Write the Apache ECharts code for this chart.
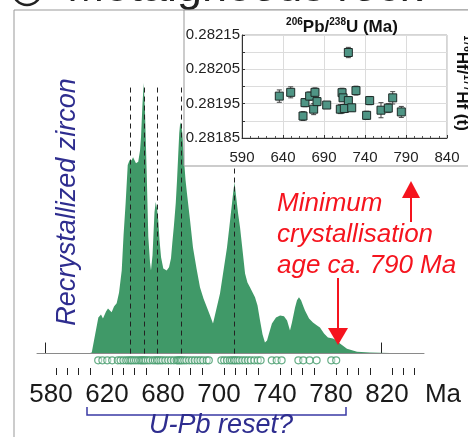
<!DOCTYPE html>
<html>
<head>
<meta charset="utf-8">
<script src="https://cdn.jsdelivr.net/npm/echarts@6/dist/echarts.min.js"></script>
<style>
  html, body { margin: 0; padding: 0; background: #fff; }
  #chart { width: 468px; height: 437px; }
</style>
</head>
<body>
<div id="chart"></div>
<script>
// age density curve of recrystallized zircon (Ma, arbitrary units)
const kdeAge = [574, 611, 613.4, 615, 618.1, 620, 621.4, 623.6, 625, 627.6,
  629.3, 631.2, 632.9, 634.8, 636.1, 637.6, 639.1, 640.4, 641.9, 642.9,
  643.8, 645, 646.6, 647.9, 648.6, 649.6, 650.5, 651.4, 652.6, 653.8,
  655, 655.7, 656.8, 657.4, 658.2, 659.1, 660, 660.9, 661.8, 662.9,
  664.5, 665.7, 666.9, 668.6, 670, 670.9, 672.1, 673.4, 674.3, 675.2,
  675.9, 676.6, 677.4, 678.1, 679.3, 680.4, 681.4, 683.6, 685.7, 688.2,
  690.7, 693.2, 695.7, 697.9, 700, 702.5, 705, 707.5, 710, 711.8,
  713.6, 714.6, 715.4, 716.4, 717.9, 719.3, 721.1, 722.9, 724.6, 726.4,
  730, 731.8, 733.6, 735.4, 737.1, 738.6, 740, 742.1, 745, 747.9,
  750.7, 752.9, 755, 756.4, 758.6, 760, 761.4, 762.9, 764.3, 765.7,
  768.6, 771.4, 774.3, 776.4, 779.3, 782.1, 785.7, 788.6, 790.7, 795.7,
  802.9, 812.1, 826.4, 851];
const kdeDensity = [0, 0, 0.4, 4.8, 13.3, 14.4, 12.9, 15.5, 16.6, 15.2,
  17.3, 18.5, 22.5, 30.6, 43.5, 55.4, 69.4, 71.2, 71.2, 72.3,
  72.0, 70.1, 70.6, 74.9, 79.8, 91.5, 99.6, 89.7, 67.5, 42.9,
  33.6, 30.6, 36.2, 42.9, 52.0, 55.8, 53.5, 49.1, 41.7, 35.5,
  31.3, 31.0, 30.6, 31.8, 35.1, 40.5, 47.2, 55.4, 63.8, 73.7,
  81.2, 85.2, 83.8, 81.2, 71.2, 63.8, 59.0, 49.1, 39.1, 31.4,
  24.4, 20.3, 17.0, 14.0, 11.1, 16.6, 22.1, 30.6, 39.1, 47.2,
  55.4, 60.1, 63.1, 58.3, 51.7, 46.5, 38.0, 29.5, 26.2, 24.4,
  20.7, 17.7, 12.2, 7.0, 4.1, 4.8, 7.4, 11.1, 13.3, 14.0,
  13.7, 12.2, 8.5, 11.4, 17.0, 19.6, 20.7, 19.6, 17.7, 15.9,
  12.9, 11.4, 10.3, 9.6, 7.4, 5.9, 5.5, 4.8, 3.7, 1.8,
  0.7, 0.4, 0.2, 0];

// single zircon ages (open circles under the curve)
const zirconAges = [618, 621, 624.5, 628, 632, 634, 636, 638, 639.5, 641,
  642, 643.5, 645, 646.5, 648, 649, 650, 651, 652, 653.5,
  655, 657, 658.5, 660, 661, 662.5, 664, 666, 668, 670,
  672, 674, 675, 676, 677, 678, 679.5, 681, 683, 685,
  687, 689, 691, 693, 695.5, 697, 706, 708, 710, 712,
  713.5, 715, 716, 717.5, 719, 721, 723, 725, 727, 729.5,
  732, 734, 742, 745.5, 749, 761, 764.5, 769, 774, 784.5, 788];

// dashed peak lines
const peakAges = [641, 651, 660, 677, 715];

// main age axis labels (as printed), last one is the unit
const ageTicks = [580, 620, 660, 700, 740, 780, 820, 860];
const ageTickLabels = ['580', '620', '680', '700', '740', '780', '820', 'Ma'];

// inset: 176Hf/177Hf(t) vs 206Pb/238U age
const hfAge = [635.5, 649.4, 664.4, 666.8, 672.5, 677.4, 679, 681.5, 693.3, 709.9,
  712, 713.2, 714.8, 719.7, 719.7, 723.8, 729, 742, 745.7, 759.5,
  768.4, 773.8, 784.3];
const hfRatio = [0.281972, 0.281983, 0.281914, 0.281953, 0.281972, 0.281934, 0.281983, 0.281956, 0.281946, 0.281934,
  0.281982, 0.281967, 0.281936, 0.282099, 0.281959, 0.281938, 0.281988, 0.281916, 0.281959, 0.281931,
  0.281937, 0.281967, 0.281926];
const hfErr = [0.000018, 0.000016, 0.000013, 0.000012, 0.000012, 0.000016, 0.000013, 0.000012, 0.000006, 0.000013,
  0.000013, 0.000010, 0.000012, 0.000015, 0.000012, 0.000010, 0.000013, 0.000012, 0.000012, 0.000022,
  0.000013, 0.000018, 0.000016];
const hfBand = [0.281916, 0.281994];

const green = '#409968';
const blue = '#2e2d8f';
const red = '#f5141e';
const font = 'Liberation Sans, Arial, sans-serif';

const kdeData = kdeAge.map((a, i) => [a, kdeDensity[i]]);
const longTicks = ageTicks.filter(v => v <= 820);
const shortTicks = [];
for (let v = 580; v <= 844; v += 8) {
  if ((v - 580) % 40 !== 0) shortTicks.push(v);
}

const peakLines = peakAges.map(a => [{ coord: [a, 0] }, { coord: [a, 99] }]);

const chart = echarts.init(document.getElementById('chart'));

const option = {
  animation: false,
  backgroundColor: '#fff',
  grid: [
    { left: 31, right: 31, top: 82, bottom: 59 },
    { left: 242, top: 35, width: 205, height: 103, show: true, borderColor: '#aaa', borderWidth: 1, zlevel: 1, z: 2 }
  ],
  xAxis: [
    {
      type: 'value', gridIndex: 0, position: 'bottom', min: 570, max: 860,
      axisLine: { show: true, lineStyle: { color: 'rgba(0,0,0,0)' } },
      axisTick: { show: true, inside: true, length: 11, customValues: longTicks, lineStyle: { color: '#222', width: 1 } },
      axisLabel: {
        customValues: ageTicks,
        formatter: v => ageTickLabels[ageTicks.indexOf(v)],
        fontSize: 26, fontFamily: font, color: '#1a1a1a', margin: 4, padding: [0, 0, 0, 12],
        showMinLabel: true, showMaxLabel: true
      },
      splitLine: { show: false }
    },
    {
      type: 'value', gridIndex: 0, position: 'bottom', offset: -3, min: 570, max: 860,
      axisLine: { show: true, lineStyle: { color: 'rgba(0,0,0,0)' } },
      axisTick: { show: true, inside: true, length: 7, customValues: shortTicks, lineStyle: { color: '#222', width: 1 } },
      axisLabel: { show: false },
      splitLine: { show: false }
    },
    {
      type: 'value', gridIndex: 1, min: 590, max: 840, interval: 50,
      zlevel: 1, z: 3,
      axisLine: { show: true, lineStyle: { color: '#333', width: 1 } },
      axisTick: { show: true, inside: true, length: 3, lineStyle: { color: '#333' } },
      minorTick: { show: true, splitNumber: 5, length: 2, lineStyle: { color: '#555' } },
      axisLabel: { fontSize: 15, fontFamily: font, color: '#222', margin: 12 },
      splitLine: { show: true, lineStyle: { color: '#dcdcdc', width: 1 } }
    }
  ],
  yAxis: [
    { type: 'value', gridIndex: 0, min: -9, max: 100, show: false },
    {
      type: 'value', gridIndex: 1, min: 0.28185, max: 0.28215, interval: 0.00005,
      zlevel: 1, z: 3,
      axisLine: { show: true, lineStyle: { color: '#333', width: 1 } },
      axisTick: { show: true, inside: true, length: 3, lineStyle: { color: '#333' } },
      axisLabel: {
        fontSize: 15, fontFamily: font, color: '#222', margin: 2,
        formatter: v => (Math.round(v * 1e5) % 10 === 5 ? v.toFixed(5) : '')
      },
      splitLine: { show: true, lineStyle: { color: '#dcdcdc', width: 1 } }
    }
  ],
  series: [
    {
      type: 'line', xAxisIndex: 0, yAxisIndex: 0, data: kdeData,
      symbol: 'none', smooth: false,
      lineStyle: { width: 0 },
      areaStyle: { color: green, opacity: 1 },
      markLine: {
        silent: true, symbol: ['none', 'none'], label: { show: false },
        data: [
          [{ coord: [574, 0], lineStyle: { color: '#8a8a8a', width: 1.2, type: 'solid' } }, { coord: [851, 0] }]
        ].concat(peakLines),
        lineStyle: { color: '#222', width: 1, type: [5, 4] }
      }
    },
    {
      type: 'scatter', xAxisIndex: 0, yAxisIndex: 0,
      data: zirconAges.map(a => [a, -2.5]),
      symbol: 'circle', symbolSize: 7,
      itemStyle: { color: 'rgba(255,255,255,0.5)', borderColor: green, borderWidth: 1.2 }
    },
    {
      type: 'custom', xAxisIndex: 2, yAxisIndex: 1, zlevel: 1, z: 4,
      data: hfAge.map((a, i) => [a, hfRatio[i] - hfErr[i], hfRatio[i] + hfErr[i]]),
      encode: { x: 0, y: [1, 2] },
      renderItem: function (params, api) {
        const lo = api.coord([api.value(0), api.value(1)]);
        const hi = api.coord([api.value(0), api.value(2)]);
        const w = 2.5;
        const st = { stroke: '#444', lineWidth: 1 };
        return {
          type: 'group',
          children: [
            { type: 'line', shape: { x1: lo[0], y1: lo[1], x2: hi[0], y2: hi[1] }, style: st },
            { type: 'line', shape: { x1: lo[0] - w, y1: lo[1], x2: lo[0] + w, y2: lo[1] }, style: st },
            { type: 'line', shape: { x1: hi[0] - w, y1: hi[1], x2: hi[0] + w, y2: hi[1] }, style: st }
          ]
        };
      }
    },
    {
      type: 'scatter', xAxisIndex: 2, yAxisIndex: 1, zlevel: 1, z: 5,
      data: hfAge.map((a, i) => [a, hfRatio[i]]),
      symbol: 'rect', symbolSize: 8,
      itemStyle: { color: '#4f9585', borderColor: '#1e2a27', borderWidth: 1, opacity: 1 },
      markArea: {
        silent: true,
        itemStyle: { color: '#8dd3df' },
        data: [[{ yAxis: hfBand[0] }, { yAxis: hfBand[1] }]]
      }
    }
  ],
  graphic: [
    // outer frame and cut title
    { type: 'rect', shape: { x: 14, y: 10, width: 600, height: 600 }, style: { fill: 'none', stroke: '#999', lineWidth: 1 } },
    { type: 'circle', shape: { cx: 27, cy: -9, r: 14 }, style: { fill: 'none', stroke: '#222', lineWidth: 2.5 } },
    { type: 'text', x: 67, y: -11.5, style: { text: 'Metaigneous rock', font: '45px ' + font, fill: '#222', verticalAlign: 'middle' } },
    // inset box
    { type: 'rect', zlevel: 1, z: 0, shape: { x: 184, y: 10, width: 300, height: 156 }, style: { fill: '#fff', stroke: '#999', lineWidth: 1 } },
    {
      type: 'text', zlevel: 1, z: 10, x: 342, y: 27,
      style: {
        text: '{s|206}{m|Pb/}{s|238}{m|U (Ma)}', align: 'center', verticalAlign: 'middle',
        rich: {
          m: { fontSize: 17, fontWeight: 'bold', fontFamily: font, fill: '#111', lineHeight: 20 },
          s: { fontSize: 10, fontWeight: 'bold', fontFamily: font, fill: '#111', verticalAlign: 'top', lineHeight: 20 }
        }
      }
    },
    {
      type: 'text', zlevel: 1, z: 10, x: 462, y: 83, rotation: -Math.PI / 2,
      style: {
        text: '{s|176}{m|Hf/}{s|177}{m|Hf (t)}', align: 'center', verticalAlign: 'middle',
        rich: {
          m: { fontSize: 17, fontWeight: 'bold', fontFamily: font, fill: '#111', lineHeight: 20 },
          s: { fontSize: 10, fontWeight: 'bold', fontFamily: font, fill: '#111', verticalAlign: 'top', lineHeight: 20 }
        }
      }
    },
    // annotations
    {
      type: 'text', x: 67, y: 202, rotation: Math.PI / 2,
      style: { text: 'Recrystallized zircon', font: 'italic 27px ' + font, fill: blue, align: 'center', verticalAlign: 'middle' }
    },
    {
      type: 'text', x: 277, y: 188, z: 10,
      style: { text: 'Minimum\ncrystallisation\nage ca. 790 Ma', font: 'italic 26px ' + font, fill: red, lineHeight: 31, verticalAlign: 'top' }
    },
    { type: 'line', z: 10, shape: { x1: 411, y1: 222, x2: 411, y2: 196 }, style: { stroke: red, lineWidth: 2 } },
    { type: 'polygon', z: 10, shape: { points: [[402, 198], [420, 198], [411, 181]] }, style: { fill: red } },
    { type: 'line', z: 10, shape: { x1: 338, y1: 278, x2: 338, y2: 330 }, style: { stroke: red, lineWidth: 2 } },
    { type: 'polygon', z: 10, shape: { points: [[328, 328], [348, 328], [338, 345]] }, style: { fill: red } },
    { type: 'polyline', shape: { points: [[87, 407], [87, 415], [346, 415], [346, 407]] }, style: { stroke: '#3a3aa5', lineWidth: 1.5, fill: 'none' } },
    {
      type: 'text', x: 221, y: 425,
      style: { text: 'U-Pb reset?', font: 'italic 27px ' + font, fill: blue, align: 'center', verticalAlign: 'middle' }
    }
  ]
};

chart.setOption(option);
</script>
</body>
</html>
